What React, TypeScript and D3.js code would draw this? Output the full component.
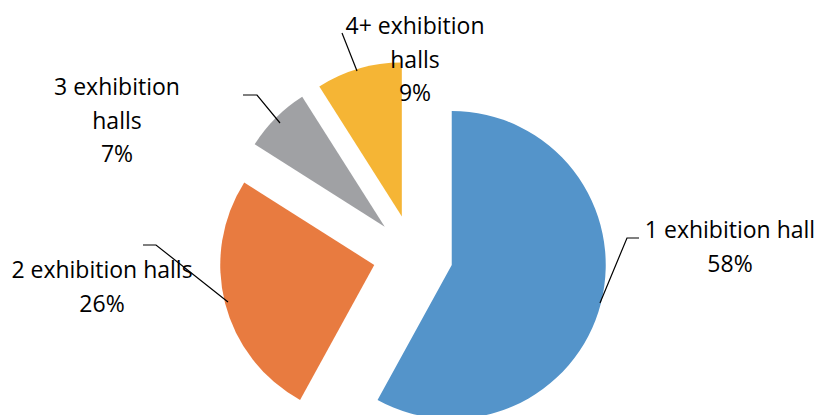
import React from "react";
import * as d3 from "d3";

const categories = ["1 exhibition hall", "2 exhibition halls", "3 exhibition halls", "4+ exhibition halls"];
const shares = [58, 26, 7, 9];
const labelLines = [["1 exhibition hall", "58%"], ["2 exhibition halls", "26%"], ["3 exhibition", "halls", "7%"], ["4+ exhibition", "halls", "9%"]];
const colors = ["#5494CA", "#E87B40", "#A0A1A4", "#F5B535"];

// layout (pixel positions for manually placed Excel labels)
const W = 820, H = 415;
const CX = 413, CY = 255, R = 154, EXPLODE = 40;
const labelAnchors = [
  { x: 730, y: 238 },
  { x: 102, y: 278 },
  { x: 117, y: 95 },
  { x: 415, y: 34 },
];
const leaders = [
  [[600, 303], [627, 238], [639, 238]],
  [[143, 245], [156, 245], [228, 302]],
  [[243, 95], [257, 95], [280, 123]],
  [[342, 33], [357, 71]],
];
const LINE_H = 33.5;

export default function App() {
  const pie = d3.pie<number>().sort(null).value((d) => d).startAngle(0).endAngle(2 * Math.PI);
  const arcs = pie(shares);
  const arc = d3.arc<d3.PieArcDatum<number>>().innerRadius(0).outerRadius(R);
  return (
    <svg width={W} height={H} style={{ position: "absolute", left: 0, top: 0, background: "#fff" }}>
      {arcs.map((a, i) => {
        const mid = (a.startAngle + a.endAngle) / 2;
        const dx = Math.sin(mid) * EXPLODE;
        const dy = -Math.cos(mid) * EXPLODE;
        return (
          <path key={i} d={arc(a) || ""} fill={colors[i]} transform={`translate(${CX + dx},${CY + dy})`} />
        );
      })}
      {leaders.map((pts, i) => (
        <path key={"l" + i} d={d3.line()(pts as [number, number][]) || ""} fill="none" stroke="#000" strokeWidth={1.2} />
      ))}
      {labelLines.map((lines, i) => (
        <text key={"t" + i} x={labelAnchors[i].x} y={labelAnchors[i].y} textAnchor="middle"
          fontFamily="'Open Sans', sans-serif" fontSize={23} fill="#000" aria-label={categories[i]}
          style={{ fontVariantLigatures: "none" }}>
          {lines.map((ln, j) => (
            <tspan key={j} x={labelAnchors[i].x} y={labelAnchors[i].y + j * LINE_H}>{ln}</tspan>
          ))}
        </text>
      ))}
    </svg>
  );
}
